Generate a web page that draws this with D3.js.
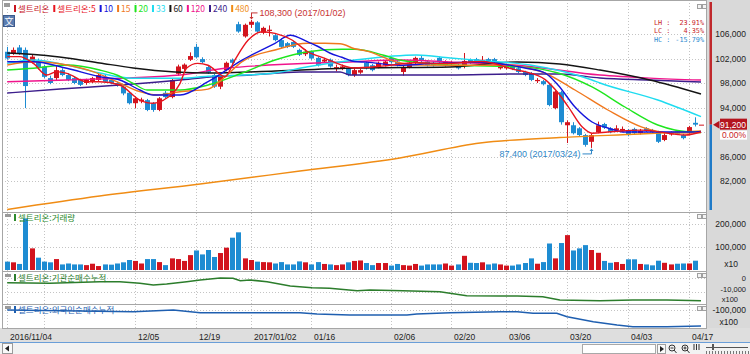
<!DOCTYPE html>
<html>
<head>
<meta charset="utf-8">
<script src="https://cdn.jsdelivr.net/npm/d3@7"></script>
<style>
  body { margin: 0; background: #fff; overflow: hidden; }
  svg { display: block; }
</style>
</head>
<body>
<script>
// trading days shown
const dates = [
  "2016/11/04","2016/11/07","2016/11/08","2016/11/09","2016/11/10","2016/11/11","2016/11/14","2016/11/15","2016/11/16","2016/11/17",
  "2016/11/18","2016/11/21","2016/11/22","2016/11/23","2016/11/24","2016/11/25","2016/11/28","2016/11/29","2016/11/30","2016/12/01",
  "2016/12/02","2016/12/05","2016/12/06","2016/12/07","2016/12/08","2016/12/09","2016/12/12","2016/12/13","2016/12/14","2016/12/15",
  "2016/12/16","2016/12/19","2016/12/20","2016/12/21","2016/12/22","2016/12/23","2016/12/26","2016/12/27","2016/12/28","2016/12/29",
  "2017/01/02","2017/01/03","2017/01/04","2017/01/05","2017/01/06","2017/01/09","2017/01/10","2017/01/11","2017/01/12","2017/01/13",
  "2017/01/16","2017/01/17","2017/01/18","2017/01/19","2017/01/20","2017/01/23","2017/01/24","2017/01/25","2017/01/26","2017/01/31",
  "2017/02/01","2017/02/02","2017/02/03","2017/02/06","2017/02/07","2017/02/08","2017/02/09","2017/02/10","2017/02/13","2017/02/14",
  "2017/02/15","2017/02/16","2017/02/17","2017/02/20","2017/02/21","2017/02/22","2017/02/23","2017/02/24","2017/02/27","2017/02/28",
  "2017/03/02","2017/03/03","2017/03/06","2017/03/07","2017/03/08","2017/03/09","2017/03/10","2017/03/13","2017/03/14","2017/03/15",
  "2017/03/16","2017/03/17","2017/03/20","2017/03/21","2017/03/22","2017/03/23","2017/03/24","2017/03/27","2017/03/28","2017/03/29",
  "2017/03/30","2017/03/31","2017/04/03","2017/04/04","2017/04/05","2017/04/06","2017/04/07","2017/04/10","2017/04/11","2017/04/12",
  "2017/04/13","2017/04/14","2017/04/17","2017/04/18","2017/04/19"
];

// open, high, low, close
const ohlc = [
  [103100,103900,101800,102000],[102900,103800,102600,103400],[103800,104200,102600,102900],[103400,103800,93900,97500],[101500,102700,101200,102300],
  [101500,102000,100200,100500],[100700,101000,98800,99000],[98800,99200,97800,98000],[98800,100900,98500,100100],[100100,100400,99100,99300],
  [99300,99600,98300,98500],[98800,99000,97800,98000],[98500,98700,97500,97700],[98000,98700,97700,98500],[98200,99000,98000,98800],
  [98500,99500,98300,99300],[99000,99300,98000,98200],[98500,98700,97800,98000],[98000,98200,97400,97700],[97400,97600,96000,96300],
  [96400,96600,94500,94700],[94700,95800,93900,95500],[95000,95600,94700,95300],[95200,95400,93400,93600],[94700,94900,93300,93600],
  [93600,95700,93400,95500],[96400,96700,95500,95700],[95700,98800,95500,98500],[99500,101000,99200,100700],[100300,101200,100000,101000],
  [101800,103000,101600,102400],[103900,104400,102000,102200],[101900,102200,101200,101400],[100600,100900,99500,99700],[99300,99500,97200,97400],
  [97400,99500,97000,99300],[100100,101500,99900,101300],[101800,102000,101100,101300],[107600,108000,106200,106400],[105600,107700,105400,107500],
  [107500,108300,107000,108000],[107900,108100,106200,106400],[106200,107200,106000,107000],[106500,107400,105600,106700],[105800,106000,104800,105000],
  [105000,105300,103700,103900],[104500,104700,103700,103900],[104700,104900,103700,103900],[103400,103600,102400,102600],[102700,103500,102400,103100],
  [103100,103300,101800,102000],[102100,102300,100700,100900],[101500,102100,101300,101800],[101800,102000,100500,100700],[100300,101000,99900,100600],
  [100300,101000,100100,100700],[100400,100600,99100,99300],[99300,100400,99000,100100],[99700,100300,99500,100100],[101300,101500,100200,100400],
  [100900,101100,99900,100100],[100600,101500,100400,101300],[100900,101700,100700,101500],[102100,102300,101200,101400],[101500,101700,100700,100900],
  [99800,100800,99200,100600],[100600,101500,100400,101300],[101300,102300,101100,102100],[102100,102400,101400,101600],[101500,101700,100700,100900],
  [101300,101500,100700,100900],[102100,102300,101300,101500],[100900,101700,100700,101500],[101100,101600,100900,101400],[100900,101100,100200,100400],
  [100800,102900,100400,101600],[101800,102000,101100,101300],[101900,102100,101200,101400],[101600,102400,101300,101800],[101900,102100,101200,101400],
  [101900,102100,101200,101400],[100400,101100,100200,100900],[100400,100900,100200,100700],[100800,101000,100100,100300],[100400,100600,99600,99800],
  [99800,100000,99100,99300],[99600,99800,98300,98500],[98300,98800,98000,98500],[98300,98500,97600,97800],[97700,97900,94200,94400],
  [93900,96800,93700,96600],[96500,96700,91200,91600],[91100,91900,88200,91600],[91100,91600,89600,89800],[90600,90800,89300,89500],
  [89500,89700,87600,87900],[88400,89800,87400,89500],[90000,91700,89800,91100],[91300,91500,90500,90700],[90600,90800,89800,90000],
  [90300,91100,90000,90600],[90200,90900,90000,90500],[90300,90500,89300,89500],[90500,90700,89600,89800],[89800,90500,89600,90200],
  [90600,90800,90000,90200],[90300,90500,89800,90000],[90000,90200,88200,88400],[88700,89800,88500,89500],[89600,90100,89400,89800],
  [90100,90300,89500,89700],[89500,89700,88800,89000],[89800,91000,89600,90800],[91500,92400,90900,91200],[91200,91200,91200,91200]
];

// volume, shown in units of x10
const volume = [
  36000,33000,26000,222000,93000,53000,36000,33000,47000,24000,
  28000,24000,24000,21000,27000,17000,24000,23000,28000,33000,
  43000,39000,28000,47000,47000,34000,21000,50000,47000,39000,
  64000,84000,67000,86000,56000,73000,96000,139000,162000,50000,
  43000,36000,34000,33000,28000,34000,24000,24000,37000,33000,
  24000,34000,26000,24000,21000,24000,33000,39000,41000,30000,
  21000,30000,30000,19000,26000,21000,19000,26000,19000,24000,
  24000,24000,28000,19000,24000,61000,31000,30000,33000,24000,
  28000,24000,19000,19000,24000,30000,50000,27000,34000,114000,
  50000,116000,150000,84000,93000,107000,86000,74000,39000,31000,
  34000,26000,46000,46000,26000,24000,20000,40000,31000,24000,
  27000,28000,28000,40000,0
];

// moving averages: [day index, price]
const ma5 = [[0,102300],[2,102300],[4.3,101200],[6.5,99300],[8.1,99850],[9.8,99580],[13.1,98200],[15.2,98200],[18.5,97670],[21.8,95220],
  [24,94690],[25.7,95220],[28.4,97950],[29.5,100450],[31.3,101200],[33,100900],[35.8,99030],[37.4,101750],[39.6,105020],[41.9,106370],
  [44,106100],[46.8,105020],[49.4,103100],[52.2,102030],[57.1,100450],[62,100800],[67,101300],[72,101200],[78,101500],[83.8,100100],
  [85.1,99850],[88.4,98550],[90.5,96400],[92.2,94100],[94.5,90800],[96.1,89800],[98.7,90000],[104.3,90300],[111.4,89500],[114,90000]];
const ma10 = [[0,101480],[4.3,101480],[9.8,100400],[15.2,99030],[18.5,98490],[21.8,96860],[24,96040],[28.4,96040],[33,98210],[38.6,101750],
  [44,104480],[46.5,105800],[49.4,104700],[51,104000],[53,102900],[55,102200],[57.1,101500],[59,101400],[64.5,100900],[70,101200],
  [78,101400],[83.8,100700],[85.1,100450],[88.4,99630],[90.5,97670],[93.3,94080],[96.1,91630],[98.7,90650],[101.5,90000],[112.5,90000],[114,90100]];
const ma15 = [[0,100940],[4.3,101480],[9.8,100940],[14.1,99850],[18,98210],[21.8,96580],[24.6,96040],[28.4,96580],[33,97000],[35.8,99030],
  [38.6,101480],[44,103390],[49.4,104480],[52.2,104480],[54.7,104400],[57.1,103600],[59.1,103200],[64.5,101300],[67.3,100940],[75,100900],
  [83,100900],[85.1,100500],[87.9,99800],[93.3,96860],[98.7,93590],[104.3,90800],[109.7,89840],[114,89900]];
const ma20 = [[0,100120],[4.3,100400],[9.8,100940],[15.2,100120],[18,99310],[20.7,97950],[23,96860],[28.4,96860],[33,97670],[38.6,99630],
  [44,101750],[49.4,103110],[55,103500],[57.1,103500],[61.7,102570],[64.5,101750],[72.8,100940],[85.1,100600],[90.5,99630],[96.1,97350],
  [101.5,94080],[106.9,91140],[109.7,90330],[112.5,90000],[114,89900]];
const ma33 = [[0,101200],[4.3,101750],[9.8,100940],[15.2,99630],[20.7,98770],[28.4,98770],[33,99100],[38.6,99300],[44,99630],[49.4,100660],
  [57.1,101750],[67.3,102570],[72.8,102080],[78.2,101640],[85.9,100940],[96.1,98490],[97.4,98000],[106.9,95220],[114,92500]];
const ma60 = [[0,102900],[5.4,102570],[9.8,102080],[15.2,101270],[20.7,100450],[27.6,99800],[33,99630],[44,99960],[57.1,100450],[72.8,100610],
  [83.8,101430],[90.8,101100],[97.4,100120],[105.6,98490],[114,96200]];
const ma120 = [[0,98200],[9.8,98490],[28.4,99300],[35.8,100400],[57.1,101480],[64.5,101750],[72.8,101430],[85.1,100780],[97.4,99300],[105.6,98800],[114,98490]];
const ma240 = [[0,96370],[8.7,97020],[18.5,97670],[28.4,98490],[33.3,98980],[39.9,99310],[48.1,99800],[54.7,99800],[56.3,99310],[72.8,99310],
  [83.4,99470],[90.8,99470],[97.4,98820],[105.6,98490],[114,98160]];
const ma480 = [[0,77350],[15.2,79550],[31.7,81510],[48.1,83630],[64.5,85760],[77.7,88200],[90.8,89100],[104,89670],[114,90160]];

// cumulative net buying (x100)
const instNet = [[0,-3360],[7,-3790],[15.2,-2640],[18.5,-2640],[21.8,-3790],[24,-5000],[26.2,-4290],[29.5,-2640],[31.7,-1430],[35,0],
  [37.1,-210],[38.3,-1930],[39.9,-1430],[42.7,-2640],[46.5,-5710],[50.1,-6930],[53,-7360],[57.5,-9070],[59.6,-8570],[65,-9070],
  [71.1,-9790],[75.5,-12640],[81,-12860],[83.8,-12860],[88,-13360],[90.8,-15710],[97.4,-16210],[102.8,-15710],[108.4,-15710],[114,-16210]];
const foreignNet = [[0,-100000],[20.7,-108500],[27.3,-100000],[31.7,-113500],[48.1,-113500],[50.9,-120000],[56.3,-125000],[65.7,-125000],
  [67.3,-120000],[72.8,-113500],[81,-108500],[83.8,-108500],[86.4,-116500],[90.3,-116500],[92,-133500],[96.3,-158500],[100.2,-175000],
  [102.8,-183500],[108.4,-183500],[114,-180000]];

const maNames = ["5", "10", "15", "20", "33", "60", "120", "240", "480"];
const maColors = ["#e8141e", "#1414dc", "#f0781e", "#1ee61e", "#1edcf0", "#141414", "#f0148c", "#3c1e8c", "#f08c14"];
const maSeries = [ma5, ma10, ma15, ma20, ma33, ma60, ma120, ma240, ma480];

const priceTicks = [82000, 86000, 90000, 94000, 98000, 102000, 106000];
const volTicks = [100000, 200000];
const tickDates = ["2016/11/04","2016/11/14","2016/12/05","2016/12/19","2017/01/02","2017/01/16","2017/02/06","2017/02/20","2017/03/06","2017/03/20","2017/04/03","2017/04/17"];
const tickLabels = ["2016/11/04","","12/05","12/19","2017/01/02","01/16","02/06","02/20","03/06","03/20","04/03","04/17"];

const lastPrice = 91200;
const highNote = { price: 108300, date: "2017/01/02", label: "108,300 (2017/01/02)" };
const lowNote = { price: 87400, date: "2017/03/24", label: "87,400 (2017/03/24)" };
const stats = [["LH", "23.91%", "#c81e28"], ["LC", "4.35%", "#c81e28"], ["HC", "-15.79%", "#2a8ad0"]];

const W = 750, H = 354;
const fontK = '"Noto Sans CJK KR", "Noto Sans", sans-serif';
const fontN = '"Liberation Sans", Arial, sans-serif';
const fontM = '"DejaVu Sans Mono", monospace';
const RED = "#d2141e", BLUE = "#1e8cd2";
const plotL = 2, plotR = 706;

const svg = d3.select("body").append("svg").attr("width", W).attr("height", H);

const xi = d3.scaleLinear().domain([0, dates.length - 1]).range([7.2, 701]);
const xd = d => xi(dates.indexOf(d));
const yP = d3.scaleLinear().domain([82000, 106000]).range([181, 34]);
const yV = d3.scaleLinear().domain([0, 200000]).range([270, 223.5]);
const yI = d3.scaleLinear().domain([-10000, 0]).range([292, 278]);
const yF = d3.scaleLinear().domain([-100000, 0]).range([310, 290]);

const panels = [[0, 212], [212, 271], [271, 304], [304, 328]];

// backgrounds
svg.append("rect").attr("width", W).attr("height", H).attr("fill", "#fff");
svg.append("rect").attr("x", plotR).attr("y", 0).attr("width", W - plotR).attr("height", 328).attr("fill", "#d9d9d9");
svg.append("rect").attr("x", 0).attr("y", 328).attr("width", W).attr("height", 14).attr("fill", "#dedede");
svg.append("rect").attr("x", 0).attr("y", 342).attr("width", W).attr("height", 12).attr("fill", "#f2f2f2");
svg.append("line").attr("x1", 0).attr("x2", W).attr("y1", 342.5).attr("y2", 342.5).attr("stroke", "#6a9ed8");

// dotted grid
const grid = svg.append("g").attr("stroke", "#c4c4c4").attr("stroke-dasharray", "1,2").attr("stroke-width", 1);
tickDates.forEach(d => {
  grid.append("line").attr("x1", Math.round(xd(d)) + 0.5).attr("x2", Math.round(xd(d)) + 0.5)
    .attr("y1", 0).attr("y2", 328);
});
priceTicks.forEach(p => {
  grid.append("line").attr("x1", plotL).attr("x2", plotR).attr("y1", Math.round(yP(p)) + 0.5).attr("y2", Math.round(yP(p)) + 0.5);
});
volTicks.forEach(v => {
  grid.append("line").attr("x1", plotL).attr("x2", plotR).attr("y1", Math.round(yV(v)) + 0.5).attr("y2", Math.round(yV(v)) + 0.5);
});
[0, -10000].forEach(v => {
  grid.append("line").attr("x1", plotL).attr("x2", plotR).attr("y1", Math.round(yI(v)) + 0.5).attr("y2", Math.round(yI(v)) + 0.5);
});
grid.append("line").attr("x1", plotL).attr("x2", plotR).attr("y1", Math.round(yF(-100000)) + 0.5).attr("y2", Math.round(yF(-100000)) + 0.5);

// panel frames
panels.forEach(([t, b]) => {
  svg.append("rect").attr("x", plotL + 0.5).attr("y", t + 0.5).attr("width", plotR - plotL).attr("height", b - t)
    .attr("fill", "none").attr("stroke", "#a6a6a6");
});

// candles
const candles = svg.append("g");
ohlc.forEach(([o, h, l, c], i) => {
  const col = c >= o ? RED : BLUE;
  const cx = Math.round(xi(i)) + 0.5;
  candles.append("line").attr("x1", cx).attr("x2", cx).attr("y1", yP(h)).attr("y2", yP(l)).attr("stroke", col);
  const top = Math.min(yP(o), yP(c));
  candles.append("rect").attr("x", cx - 2.5).attr("y", top).attr("width", 5)
    .attr("height", Math.max(1, Math.abs(yP(o) - yP(c)))).attr("fill", col);
});

// moving averages
const maLine = d3.line().x(d => xi(d[0])).y(d => yP(d[1])).curve(d3.curveMonotoneX);
maSeries.slice().reverse().forEach((s, k) => {
  const j = maSeries.length - 1 - k;
  svg.append("path").attr("d", maLine(s)).attr("fill", "none").attr("stroke", maColors[j]).attr("stroke-width", 1.4);
});

// high / low notes
const hx = Math.round(xd(highNote.date)) + 0.5, hy = yP(highNote.price);
svg.append("path").attr("d", `M${hx},${hy - 1}V${hy - 7}H${hx + 6}`).attr("fill", "none").attr("stroke", "#c83232");
svg.append("path").attr("d", `M${hx - 2},${hy - 3}L${hx},${hy - 0.5}L${hx + 2},${hy - 3}Z`).attr("fill", "#c83232");
svg.append("text").attr("x", hx + 8).attr("y", hy - 4).attr("font-family", fontN).attr("font-size", 9)
  .attr("fill", "#c83232").text(highNote.label);

const lx = Math.round(xd(lowNote.date)) + 0.5, ly = yP(lowNote.price);
svg.append("path").attr("d", `M${lx},${ly + 1}V${ly + 6}H${lx - 9}`).attr("fill", "none").attr("stroke", "#2f86c6");
svg.append("path").attr("d", `M${lx - 2},${ly + 3}L${lx},${ly + 0.5}L${lx + 2},${ly + 3}Z`).attr("fill", "#2f86c6");
svg.append("text").attr("x", lx - 11).attr("y", ly + 9).attr("text-anchor", "end").attr("font-family", fontN)
  .attr("font-size", 9).attr("fill", "#2f86c6").text(lowNote.label);

// LH / LC / HC
stats.forEach(([k, v, col], i) => {
  const y = 25 + i * 8.3;
  svg.append("text").attr("x", 654).attr("y", y).attr("font-family", fontM)
    .attr("font-size", 6.8).attr("fill", col).text(k + " :");
  svg.append("text").attr("x", 704).attr("y", y).attr("text-anchor", "end").attr("font-family", fontM)
    .attr("font-size", 6.8).attr("fill", col).text(v);
});

// volume bars
const vol = svg.append("g");
volume.forEach((v, i) => {
  if (!v) return;
  const [o, , , c] = ohlc[i];
  vol.append("rect").attr("x", Math.round(xi(i)) - 2).attr("y", yV(v)).attr("width", 5).attr("height", yV(0) - yV(v))
    .attr("fill", c >= o ? RED : BLUE);
});

// lower panels
const instLine = d3.line().x(d => xi(d[0])).y(d => yI(d[1])).curve(d3.curveLinear);
svg.append("path").attr("d", instLine(instNet)).attr("fill", "none").attr("stroke", "#2c7d2c").attr("stroke-width", 1.6);
const forLine = d3.line().x(d => xi(d[0])).y(d => yF(d[1])).curve(d3.curveLinear);
svg.append("path").attr("d", forLine(foreignNet)).attr("fill", "none").attr("stroke", "#1f5fb0").attr("stroke-width", 1.6);

// price axis side bar and labels
const yLast = yP(lastPrice);
svg.append("rect").attr("x", 709.5).attr("y", 2).attr("width", 2.5).attr("height", yLast - 2).attr("fill", "#c0282c");
svg.append("rect").attr("x", 709.5).attr("y", yLast).attr("width", 2.5).attr("height", 210 - yLast).attr("fill", "#1e7ac8");

const axisText = (x, y, t, opts = {}) => svg.append("text").attr("x", x).attr("y", y)
  .attr("text-anchor", opts.anchor || "end").attr("font-family", fontN).attr("font-size", opts.size || 8.5)
  .attr("fill", opts.fill || "#222").text(t);

priceTicks.filter(p => p !== 90000).forEach(p => axisText(746, yP(p) + 3, d3.format(",")(p)));
svg.append("path").attr("d", `M713,${yLast}L719.5,${yLast - 4}V${yLast + 4}Z`).attr("fill", "#b4141e");
svg.append("rect").attr("x", 720).attr("y", yLast - 6).attr("width", 27).attr("height", 11).attr("fill", "#b4141e");
axisText(746, yLast + 3, d3.format(",")(lastPrice), { fill: "#fff" });
svg.append("rect").attr("x", 720).attr("y", yLast + 6).attr("width", 27).attr("height", 9).attr("fill", "#fff");
axisText(746, yLast + 13, "0.00%", { fill: "#c81e28" });

volTicks.forEach(v => axisText(746, yV(v) + 3, d3.format(",")(v)));
axisText(738, 267, "x10");
axisText(746, yI(0) + 3, "0", { size: 7.5 });
axisText(746, 292, "-10,000", { size: 7.5 });
axisText(738, 302, "x100", { size: 7.5 });
axisText(746, yF(-100000) + 3, "-100,000");
axisText(738, 325, "x100");

// date labels
tickDates.forEach((d, i) => {
  svg.append("text").attr("x", Math.round(xd(d)) + 3).attr("y", 339.5).attr("font-family", fontN)
    .attr("font-size", 8.5).attr("fill", "#222").text(tickLabels[i]);
});

// legends
const leg = svg.append("g").attr("font-family", fontK).attr("font-size", 8.5);
const legendItems = [["셀트리온", "#c8141e"], ["셀트리온:5", maColors[0]]]
  .concat(maNames.slice(1).map((n, i) => [n, maColors[i + 1]]));
let lxPos = 14;
legendItems.forEach(([t, col]) => {
  leg.append("rect").attr("x", lxPos).attr("y", 5).attr("width", 2).attr("height", 7).attr("fill", col);
  const tx = leg.append("text").attr("x", lxPos + 4).attr("y", 12).attr("fill", col).text(t);
  lxPos += 4 + tx.node().getComputedTextLength() + 4;
});

const panelLegend = (y, t, col) => {
  svg.append("rect").attr("x", 5).attr("y", y - 7).attr("width", 6).attr("height", 3).attr("fill", "#9a9a9a");
  svg.append("rect").attr("x", 14).attr("y", y - 7).attr("width", 2).attr("height", 7).attr("fill", col);
  svg.append("text").attr("x", 18).attr("y", y).attr("font-family", fontK).attr("font-size", 8.5).attr("fill", col).text(t);
};
svg.append("rect").attr("x", 4).attr("y", 3).attr("width", 6).attr("height", 4).attr("fill", "#9a9a9a");
panelLegend(221, "셀트리온:거래량", "#2e8b2e");
panelLegend(281, "셀트리온:기관순매수누적", "#2e7d2e");
panelLegend(313, "셀트리온:외국인순매수누적", "#1f5fb0");

// language box
svg.append("rect").attr("x", 3.5).attr("y", 15.5).attr("width", 11).attr("height", 11).attr("fill", "#5a7cb0").attr("stroke", "#3c5a8c");
svg.append("text").attr("x", 9).attr("y", 24.5).attr("text-anchor", "middle").attr("font-family", fontK)
  .attr("font-size", 9).attr("fill", "#fff").text("文");

// small panel buttons
[4, 214, 273, 306].forEach(y => {
  [697, 702].forEach(x => {
    svg.append("rect").attr("x", x + 0.5).attr("y", y + 0.5).attr("width", 4).attr("height", 4)
      .attr("fill", "#f4f4f4").attr("stroke", "#a0a0a0");
  });
});

// bottom toolbar
svg.append("rect").attr("x", 2.5).attr("y", 343.5).attr("width", 10).attr("height", 10).attr("fill", "#fafafa").attr("stroke", "#9a9a9a");
svg.append("path").attr("d", "M5,348.5L9,345.5V351.5Z").attr("fill", "#222");
svg.append("rect").attr("x", 582.5).attr("y", 344.5).attr("width", 73).attr("height", 9).attr("fill", "#fff").attr("stroke", "#a8a8a8");
svg.append("rect").attr("x", 657.5).attr("y", 344.5).attr("width", 8).attr("height", 9).attr("fill", "#fafafa").attr("stroke", "#a0a0a0");
svg.append("path").attr("d", "M660,346V352L664,349Z").attr("fill", "#222");
[672, 685].forEach((x, i) => {
  svg.append("circle").attr("cx", x).attr("cy", 348).attr("r", 3).attr("fill", "none").attr("stroke", "#333");
  svg.append("line").attr("x1", x + 2).attr("y1", 350).attr("x2", x + 4.5).attr("y2", 353).attr("stroke", "#333");
  svg.append("line").attr("x1", x - 1.5).attr("x2", x + 1.5).attr("y1", 348).attr("y2", 348).attr("stroke", "#333");
  if (i) svg.append("line").attr("x1", x).attr("x2", x).attr("y1", 346.5).attr("y2", 349.5).attr("stroke", "#333");
});
[694, 696.5, 699].forEach(x => {
  svg.append("line").attr("x1", x).attr("x2", x).attr("y1", 344).attr("y2", 350).attr("stroke", "#333");
});
svg.append("line").attr("x1", 706).attr("x2", 748).attr("y1", 347.5).attr("y2", 347.5).attr("stroke", "#555");
svg.append("rect").attr("x", 712).attr("y", 344).attr("width", 2).attr("height", 6).attr("fill", "#555");
d3.range(706, 750, 3).forEach(x => {
  svg.append("line").attr("x1", x + 0.5).attr("x2", x + 0.5).attr("y1", 351).attr("y2", 354).attr("stroke", "#777");
});
</script>
</body>
</html>
